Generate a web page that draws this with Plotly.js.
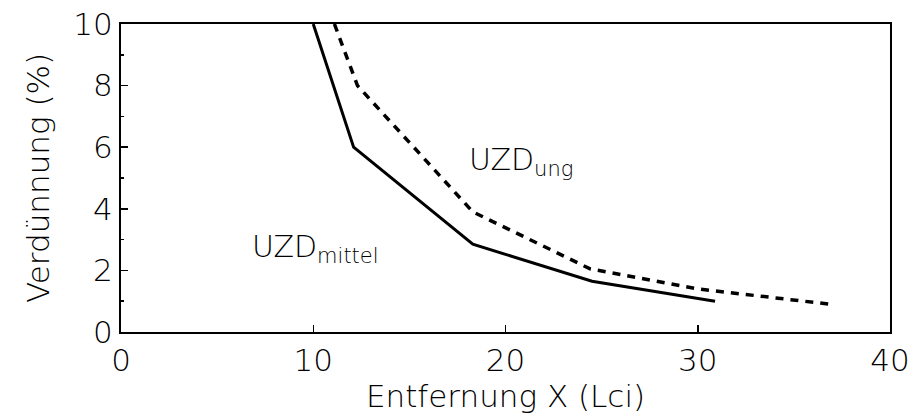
<!DOCTYPE html>
<html>
<head>
<meta charset="utf-8">
<script src="https://cdn.plot.ly/plotly-3.0.1.min.js"></script>
<style>html,body{margin:0;padding:0;background:#fff;}#chart{width:921px;height:417px;}</style>
</head>
<body>
<div id="chart"></div>
<script>
// Data
const mittelX = [10.0, 12.1, 18.3, 24.5, 30.9];
const mittelY = [10.0, 6.0, 2.85, 1.65, 1.0];
const ungX = [11.1, 12.3, 18.3, 24.4, 30.0, 36.9];
const ungY = [10.0, 8.0, 3.9, 2.05, 1.4, 0.9];
const xTicks = [0, 10, 20, 30, 40];
const yTicks = [0, 2, 4, 6, 8, 10];
const labelMittel = {x: 6.7, y: 2.7, text: 'UZD<sub>mittel</sub>'};
const labelUng = {x: 18.0, y: 5.55, text: 'UZD<sub>ung</sub>'};

const FONT = 'DejaVu Sans, Liberation Sans, sans-serif';

const traces = [
  {x: mittelX, y: mittelY, mode: 'lines', line: {color: '#000', width: 3}, hoverinfo: 'skip'},
  {x: ungX, y: ungY, mode: 'lines', line: {color: '#000', width: 3.5, dash: '8px,7px'}, hoverinfo: 'skip'}
];

const layout = {
  width: 921, height: 417,
  margin: {l: 121, r: 31, t: 24, b: 85},
  paper_bgcolor: '#fff', plot_bgcolor: '#fff',
  showlegend: false,
  font: {family: FONT, color: '#000', size: 30, weight: 200},
  xaxis: {
    range: [0, 40], tickvals: xTicks, ticktext: xTicks.map(String),
    ticks: 'inside', ticklen: 7, tickwidth: 1.5, tickcolor: '#000',
    showline: true, linecolor: '#000', linewidth: 2, mirror: true,
    showgrid: false, zeroline: false,
    tickfont: {family: FONT, size: 31, color: '#000', weight: 200},
    title: {text: 'Entfernung X (Lci)', font: {family: FONT, size: 31, color: '#000', weight: 200}, standoff: 8}
  },
  yaxis: {
    range: [0, 10], tickvals: yTicks, ticktext: yTicks.map(String),
    ticks: 'inside', ticklen: 7, tickwidth: 1.5, tickcolor: '#000',
    minor: {dtick: 1, ticks: 'inside', ticklen: 3, tickwidth: 1.5, tickcolor: '#000'},
    showline: true, linecolor: '#000', linewidth: 2, mirror: true,
    showgrid: false, zeroline: false,
    tickfont: {family: FONT, size: 31, color: '#000', weight: 200},
    title: {text: 'Verdünnung (%)', font: {family: FONT, size: 31, color: '#000', weight: 200}, standoff: 14}
  },
  annotations: [labelMittel, labelUng].map(a => ({
    x: a.x, y: a.y, xref: 'x', yref: 'y', text: a.text, showarrow: false,
    xanchor: 'left', yanchor: 'middle',
    font: {family: FONT, size: 30, color: '#000', weight: 200}
  }))
};

Plotly.newPlot('chart', traces, layout, {staticPlot: true, displayModeBar: false});
</script>
</body>
</html>
